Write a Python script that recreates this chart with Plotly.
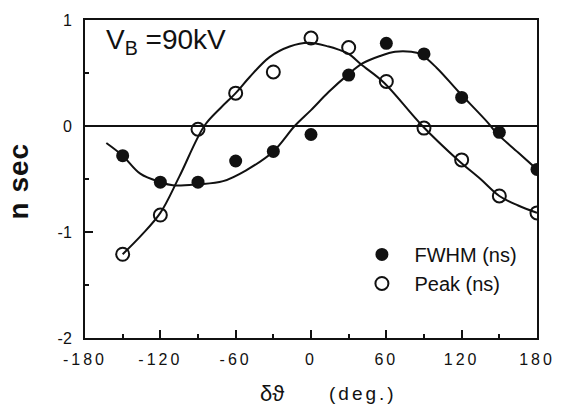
import plotly.graph_objects as go

# ---- data ----
angles = [-150, -120, -90, -60, -30, 0, 30, 60, 90, 120, 150, 180]
fwhm = [-0.28, -0.53, -0.53, -0.33, -0.24, -0.08, 0.48, 0.78, 0.68, 0.27, -0.06, -0.41]
peak = [-1.21, -0.84, -0.03, 0.31, 0.51, 0.83, 0.74, 0.42, -0.02, -0.32, -0.66, -0.82]

# smooth guide curves
peak_fit_x = [-150, -135, -120, -105, -85, -72, -60, -49, -33, -17, -2, 14, 22, 30, 40, 58, 88, 117, 135, 150, 165, 180]
peak_fit_y = [-1.21, -1.03, -0.82, -0.48, 0.0, 0.17, 0.31, 0.46, 0.65, 0.75, 0.785, 0.75, 0.72, 0.68, 0.58, 0.41, 0.01, -0.32, -0.50, -0.66, -0.75, -0.82]
fwhm_fit_x = [-163, -150, -136, -120, -110, -90, -70, -52, -30, -13, 0, 14, 29, 41, 55, 67, 80, 87, 100, 117, 141, 148, 165, 180]
fwhm_fit_y = [-0.16, -0.28, -0.45, -0.53, -0.56, -0.55, -0.52, -0.42, -0.24, 0.0, 0.15, 0.32, 0.48, 0.59, 0.66, 0.70, 0.70, 0.68, 0.55, 0.33, 0.03, -0.07, -0.25, -0.41]

x_ticks = [-180, -120, -60, 0, 60, 120, 180]
y_ticks = [-2, -1, 0, 1]

INK = "#111111"
FONT = "Liberation Sans, Arial, Helvetica, sans-serif"

fig = go.Figure()
fig.add_trace(go.Scatter(x=peak_fit_x, y=peak_fit_y, mode="lines", line=dict(color=INK, width=2, shape="spline"),
                         showlegend=False, hoverinfo="skip"))
fig.add_trace(go.Scatter(x=fwhm_fit_x, y=fwhm_fit_y, mode="lines", line=dict(color=INK, width=2, shape="spline"),
                         showlegend=False, hoverinfo="skip"))
fig.add_trace(go.Scatter(x=angles, y=fwhm, mode="markers", name="FWHM (ns)", legendgroup="a",
                         marker=dict(symbol="circle", size=13, color=INK)))
fig.add_trace(go.Scatter(x=angles, y=peak, mode="markers", name="Peak (ns)", legendgroup="b",
                         marker=dict(symbol="circle-open", size=13, color=INK, line=dict(width=2, color=INK))))

fig.update_layout(
    width=564, height=411,
    margin=dict(l=85, r=27, t=14, b=73),
    paper_bgcolor="white", plot_bgcolor="white",
    font=dict(family=FONT, color=INK, size=16),
    showlegend=True,
    legend=dict(x=0.585, y=0.324, xanchor="left", yanchor="top", bgcolor="rgba(0,0,0,0)",
                font=dict(size=20, family=FONT, color=INK), traceorder="grouped", tracegroupgap=0,
                itemwidth=55),
    xaxis=dict(range=[-180, 180], tickvals=x_ticks, ticktext=[str(v) for v in x_ticks],
               ticks="inside", ticklen=8, tickwidth=1.5, tickcolor=INK,
               minor=dict(dtick=30, tick0=-180, ticks="inside", ticklen=4, tickwidth=1.5, tickcolor=INK),
               showline=True, linewidth=2, linecolor=INK, mirror=True, showgrid=False, zeroline=False,
               tickfont=dict(size=16), ticklabelstandoff=6),
    yaxis=dict(range=[-2, 1], tickvals=y_ticks, ticktext=[str(v) for v in y_ticks],
               ticks="inside", ticklen=8, tickwidth=1.5, tickcolor=INK,
               minor=dict(dtick=0.5, tick0=0, ticks="inside", ticklen=4, tickwidth=1.5, tickcolor=INK),
               showline=True, linewidth=2, linecolor=INK, mirror=True, showgrid=False,
               zeroline=True, zerolinecolor=INK, zerolinewidth=1.5,
               tickfont=dict(size=16), ticklabelstandoff=8),
    annotations=[
        dict(text="V<sub>B</sub> =90kV", xref="paper", yref="paper", x=0.043, y=0.932,
             xanchor="left", yanchor="middle", showarrow=False, font=dict(size=28, color=INK)),
        dict(text="<b>n sec</b>", xref="paper", yref="paper", x=-0.146, y=0.494, textangle=-90,
             xanchor="center", yanchor="middle", showarrow=False, font=dict(size=28, color=INK)),
        dict(text="δϑ", xref="paper", yref="paper", x=0.414, y=-0.173,
             xanchor="center", yanchor="middle", showarrow=False, font=dict(size=22, color=INK)),
        dict(text="(deg.)", xref="paper", yref="paper", x=0.615, y=-0.173,
             xanchor="center", yanchor="middle", showarrow=False, font=dict(size=19, color=INK)),
    ],
)

post = """
document.body.style.margin='0';
document.body.style.overflow='hidden';
var gd = document.getElementById('{plot_id}');
function ls(){
  document.querySelectorAll('.xtick text').forEach(function(t){ t.style.letterSpacing='3px'; });
  document.querySelectorAll('.annotation-text').forEach(function(t){
    if (t.textContent.indexOf('deg') >= 0) { t.style.letterSpacing='3px'; }
    if (t.textContent.indexOf('sec') >= 0) { t.style.letterSpacing='1px'; }
  });
}
ls();
if (gd && gd.on) { gd.on('plotly_afterplot', ls); }
"""

fig.write_html("out.html", post_script=post, config={"displayModeBar": False})
